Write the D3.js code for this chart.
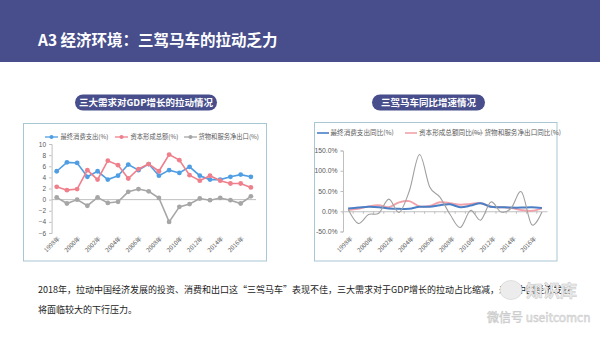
<!DOCTYPE html>
<html><head><meta charset="utf-8">
<script src="https://cdn.jsdelivr.net/npm/d3@7/dist/d3.min.js"></script>
<style>
html,body{margin:0;padding:0;background:#fff;}
svg{display:block;font-family:"Noto Sans CJK SC","Noto Sans",sans-serif;}
</style></head>
<body><svg id="c" width="600" height="337"></svg>
<script>
const years = ["1998","1999","2000","2001","2002","2003","2004","2005","2006","2007","2008","2009","2010","2011","2012","2013","2014","2015","2016","2017"];
const yearLabels = ["1998年","2000年","2002年","2004年","2006年","2008年","2010年","2012年","2014年","2016年"];
// left chart: contribution to GDP growth (percentage points)
const consumption = [5.1,6.7,6.6,4.1,5.1,3.6,4.3,6.3,5.3,6.4,4.3,5.3,4.8,5.9,4.3,3.6,3.6,4.1,4.5,4.1];
const capital     = [2.3,1.7,1.9,5.3,3.6,7.0,6.2,3.8,5.5,6.4,5.1,8.1,7.1,4.4,3.4,4.3,3.4,2.9,2.9,2.2];
const netExport   = [0.4,-0.7,0.0,-1.1,0.4,-0.6,-0.4,1.4,1.9,1.5,0.3,-4.0,-1.3,-0.8,0.2,-0.1,0.3,-0.1,-0.7,0.6];
const leftTicks = [10,8,6,4,2,0,-2,-4,-6];
const leftNames = ["最终消费支出(%)","资本形成总额(%)","货物和服务净出口(%)"];
// right chart: year-on-year growth (%)
const consYoy  = [7,9,11,10,7,6,6,11,11,15,17,10,14,20,11,10,9,9,10,8];
const capYoy   = [3,6,12,15,10,22,25,12,13,22,20,16,18,20,11,10,8,3,1,7];
const netYoy   = [5,-30,-8,-5,30,-3,50,140,60,35,-8,-40,2,-22,23,-2,8,48,-33,-2];
const rightTicks = [150,100,50,0,-50];
const rightNames = ["最终消费支出同比(%)","资本形成总额同比(%)","货物和服务净出口同比(%)"];

const svg = d3.select("#c");
const navy = "#474e8b";

// header
svg.append("rect").attr("x",0).attr("y",0).attr("width",600).attr("height",62).attr("fill",navy);
svg.append("text").attr("x",38).attr("y",45.5).attr("fill","#fff").attr("font-size",15.5).attr("font-weight","bold")
  .text("A3 经济环境：三驾马车的拉动乏力");

// panels
const border = "#a9c7d3";
svg.append("rect").attr("x",23.5).attr("y",123.5).attr("width",243).attr("height",137.5).attr("fill","none").attr("stroke",border);
svg.append("rect").attr("x",314.5).attr("y",122.5).attr("width",242.5).attr("height",138.5).attr("fill","none").attr("stroke",border);

// pills
function pill(cx, w, text){
  svg.append("rect").attr("x",cx-w/2).attr("y",94.5).attr("width",w).attr("height",16).attr("rx",8).attr("fill",navy);
  svg.append("text").attr("x",cx).attr("y",105.8).attr("text-anchor","middle").attr("fill","#fff")
    .attr("font-size",9.5).attr("font-weight","bold").text(text);
}
pill(146,142,"三大需求对GDP增长的拉动情况");
pill(428.5,113,"三驾马车同比增速情况");

const axisCol = "#bfbfbf", labCol = "#595959";

// ---------- left chart ----------
const xL = d3.scaleBand().domain(years).range([51.6,256]).padding(0);
const yL = d3.scaleLinear().domain([-6,10]).range([233,144]);
const gL = svg.append("g");
gL.append("g").attr("transform","translate(51.6,0)")
  .call(d3.axisLeft(yL).tickValues(leftTicks).tickSize(2.5).tickFormat(d3.format("d")))
  .call(g=>{g.select(".domain").attr("stroke",axisCol);g.selectAll("line").attr("stroke",axisCol);
    g.selectAll("text").attr("fill",labCol).attr("font-size",6.5).attr("font-family","Liberation Sans, Arial, sans-serif");});
// category axis at zero
gL.append("line").attr("x1",51.6).attr("x2",256).attr("y1",yL(0)).attr("y2",yL(0)).attr("stroke",axisCol);
gL.selectAll(".xl").data(yearLabels).enter().append("text")
  .attr("transform",d=>`translate(${xL(d.slice(0,4))+xL.bandwidth()/2+3.5},239) rotate(-45)`)
  .attr("text-anchor","end").attr("font-size",6).attr("fill",labCol).text(d=>d);
const colsL = ["#4f9ee3","#f07f8c","#a6a6a6"];
[consumption,capital,netExport].forEach((s,i)=>{
  const line = d3.line().x((d,j)=>xL(years[j])+xL.bandwidth()/2).y(d=>yL(d));
  gL.append("path").datum(s).attr("d",line).attr("fill","none").attr("stroke",colsL[i]).attr("stroke-width",1.6);
  gL.selectAll(".m"+i).data(s).enter().append("circle")
    .attr("cx",(d,j)=>xL(years[j])+xL.bandwidth()/2).attr("cy",d=>yL(d)).attr("r",2.4).attr("fill",colsL[i]);
});
// left legend
const legL = [[45,60.5],[115,130.5],[184,198.5]];
legL.forEach((p,i)=>{
  gL.append("line").attr("x1",p[0]).attr("x2",p[0]+13).attr("y1",137).attr("y2",137).attr("stroke",colsL[i]).attr("stroke-width",1.3);
  gL.append("circle").attr("cx",p[0]+6.5).attr("cy",137).attr("r",2).attr("fill",colsL[i]);
  gL.append("text").attr("x",p[1]).attr("y",139.3).attr("font-size",6.3).attr("fill",labCol).text(leftNames[i]);
});

// ---------- right chart ----------
const xR = d3.scaleBand().domain(years).range([343,547]).padding(0);
const yR = d3.scaleLinear().domain([-50,150]).range([231.5,150.5]);
const gR = svg.append("g");
gR.append("g").attr("transform","translate(343,0)")
  .call(d3.axisLeft(yR).tickValues(rightTicks).tickSize(2.5).tickFormat(d=>d.toFixed(1)+"%"))
  .call(g=>{g.select(".domain").attr("stroke",axisCol);g.selectAll("line").attr("stroke",axisCol);
    g.selectAll("text").attr("fill",labCol).attr("font-size",6.8).attr("font-family","Liberation Sans, Arial, sans-serif");});
gR.append("g").attr("transform",`translate(0,${yR(0)})`)
  .call(d3.axisBottom(xR).tickValues([]).tickSizeOuter(0))
  .call(g=>g.select(".domain").attr("stroke",axisCol));
gR.selectAll(".tk").data(years).enter().append("line")
  .attr("x1",d=>xR(d)).attr("x2",d=>xR(d)).attr("y1",yR(0)).attr("y2",yR(0)+2.5).attr("stroke",axisCol);
gR.selectAll(".xr").data(yearLabels).enter().append("text")
  .attr("transform",d=>`translate(${xR(d.slice(0,4))+xR.bandwidth()/2+5},239) rotate(-45)`)
  .attr("text-anchor","end").attr("font-size",6).attr("fill",labCol).text(d=>d);
const colsR = ["#4a7fc6","#f2a2aa","#a0a0a0"];
const widthsR = [2,2,1.1];
[capYoy,consYoy,netYoy].forEach((s,k)=>{
  const i = [1,0,2][k];
  const line = d3.line().curve(d3.curveCardinal.tension(0))
    .x((d,j)=>xR(years[j])+xR.bandwidth()/2).y(d=>yR(d));
  gR.append("path").datum(s).attr("d",line).attr("fill","none").attr("stroke",colsR[i]).attr("stroke-width",widthsR[i]);
});
const legR = [[317,330.5],[405,419],[471,484.5]];
legR.forEach((p,i)=>{
  gR.append("line").attr("x1",p[0]).attr("x2",p[0]+12).attr("y1",133).attr("y2",133).attr("stroke",colsR[i]).attr("stroke-width",i<2?1.6:1);
  gR.append("text").attr("x",p[1]).attr("y",135.4).attr("font-size",6.6).attr("fill",labCol).text(rightNames[i]);
});

// bottom paragraph
svg.append("text").attr("x",38).attr("y",293).attr("font-size",9).attr("fill","#222")
  .text("2018年，拉动中国经济发展的投资、消费和出口这“三驾马车”表现不佳，三大需求对于GDP增长的拉动占比缩减，未来中国经济发展");
svg.append("text").attr("x",38).attr("y",313).attr("font-size",9).attr("fill","#222")
  .text("将面临较大的下行压力。");

// watermark
const wm = svg.append("g").attr("fill","#ececec").attr("stroke","#c8c8c8").attr("stroke-width",0.5);
wm.append("ellipse").attr("cx",511).attr("cy",290).attr("rx",11).attr("ry",9.5);
wm.append("text").attr("x",526).attr("y",297).attr("font-size",17).attr("font-weight","bold").text("知识库");
wm.append("text").attr("x",487).attr("y",322).attr("font-size",12).text("微信号 useitcomcn");
</script></body></html>
